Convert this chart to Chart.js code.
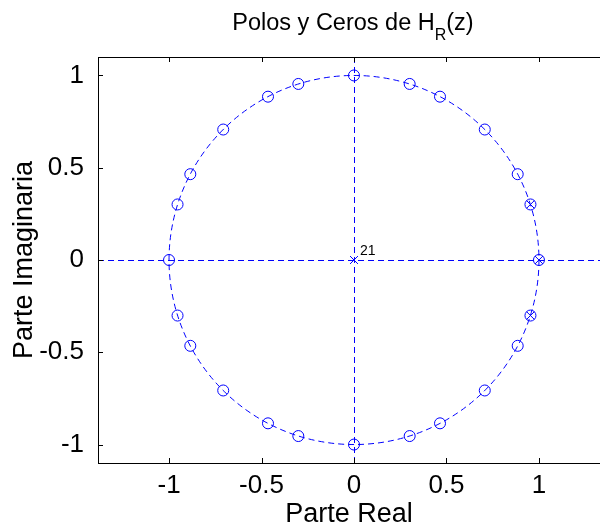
<!DOCTYPE html>
<html>
<head>
<meta charset="utf-8">
<script src="https://cdn.jsdelivr.net/npm/chart.js@4/dist/chart.umd.min.js"></script>
<style>
  html, body { margin: 0; padding: 0; background: #ffffff; overflow: hidden; }
  canvas { display: block; }
</style>
</head>
<body>
<canvas id="c" width="600" height="530"></canvas>
<script>
// ---- data ----
const zerosRe = [1, 0.954, 0.885, 0.707, 0.465, 0.301, 0, -0.301, -0.465, -0.707, -0.885, -0.954,
                 -1, -0.954, -0.885, -0.707, -0.465, -0.301, 0, 0.301, 0.465, 0.707, 0.885, 0.954];
const zerosIm = [0, 0.301, 0.465, 0.707, 0.885, 0.954, 1, 0.954, 0.885, 0.707, 0.465, 0.301,
                 0, -0.301, -0.465, -0.707, -0.885, -0.954, -1, -0.954, -0.885, -0.707, -0.465, -0.301];
const polesRe = [0, 1, 0.954, 0.954];
const polesIm = [0, 0, 0.301, -0.301];
const poleMultiplicityLabel = '21';      // multiplicity of the pole at the origin
const unitCircleRadius = 1;
const xTickValues = [-1, -0.5, 0, 0.5, 1];
const yTickValues = [-1, -0.5, 0, 0.5, 1];
const xLimits = [-1.384, 1.33];
const yLimits = [-1.1, 1.1];
const titleMain = 'Polos y Ceros de H';
const titleSub = 'R';
const titleTail = '(z)';
const xLabel = 'Parte Real';
const yLabel = 'Parte Imaginaria';

// ---- styles ----
const BLUE = '#0000ff';
const FONT = '"Liberation Sans", Arial, sans-serif';

const zeroPoints = zerosRe.map((re, i) => ({ x: re, y: zerosIm[i] }));
const polePoints = polesRe.map((re, i) => ({ x: re, y: polesIm[i] }));

function dashedLine(ctx, x1, y1, x2, y2) {
  ctx.beginPath();
  ctx.strokeStyle = BLUE;
  ctx.lineWidth = 1;
  ctx.setLineDash([6, 4]);
  ctx.moveTo(x1, y1);
  ctx.lineTo(x2, y2);
  ctx.stroke();
}

const decor = {
  id: 'zplaneDecor',
  beforeDatasetsDraw(chart) {
    const { ctx, chartArea: a, scales: { x, y } } = chart;
    const x0 = x.getPixelForValue(0), y0 = y.getPixelForValue(0);
    ctx.save();
    ctx.beginPath();
    ctx.rect(a.left, a.top, a.right - a.left, a.bottom - a.top);
    ctx.clip();
    // dashed unit circle
    const rx = x.getPixelForValue(unitCircleRadius) - x0;
    const ry = y0 - y.getPixelForValue(unitCircleRadius);
    ctx.beginPath();
    ctx.strokeStyle = BLUE;
    ctx.lineWidth = 1;
    ctx.setLineDash([6, 4]);
    ctx.ellipse(x0, y0, rx, ry, 0, 0, Math.PI * 2);
    ctx.stroke();
    // dashed real and imaginary axes
    const yl = Math.round(y0) + 0.5, xl = Math.round(x0) + 0.5;
    dashedLine(ctx, a.left, yl, a.right, yl);
    dashedLine(ctx, xl, a.top, xl, a.bottom);
    ctx.restore();
  },
  afterDraw(chart) {
    const { ctx, chartArea: a, scales: { x, y } } = chart;
    ctx.save();
    ctx.setLineDash([]);
    ctx.strokeStyle = '#000';
    ctx.lineWidth = 1;
    // top border
    ctx.beginPath(); ctx.moveTo(a.left, a.top + 0.5); ctx.lineTo(chart.width, a.top + 0.5); ctx.stroke();
    // inward ticks
    const TL = 5;
    x.ticks.forEach(t => {
      const px = Math.round(x.getPixelForValue(t.value)) + 0.5;
      ctx.beginPath(); ctx.moveTo(px, a.bottom); ctx.lineTo(px, a.bottom - TL); ctx.stroke();
      ctx.beginPath(); ctx.moveTo(px, a.top); ctx.lineTo(px, a.top + TL); ctx.stroke();
    });
    y.ticks.forEach(t => {
      const py = Math.round(y.getPixelForValue(t.value)) + 0.5;
      ctx.beginPath(); ctx.moveTo(a.left, py); ctx.lineTo(a.left + TL, py); ctx.stroke();
    });
    // multiplicity label
    ctx.fillStyle = '#000';
    ctx.font = '14px ' + FONT;
    ctx.textAlign = 'left';
    ctx.textBaseline = 'alphabetic';
    ctx.fillText(poleMultiplicityLabel, x.getPixelForValue(polesRe[0]) + 6, y.getPixelForValue(polesIm[0]) - 5);
    // title with subscript
    const mainFont = '23.5px ' + FONT, subFont = '16px ' + FONT;
    ctx.font = mainFont; const w1 = ctx.measureText(titleMain).width; const w3 = ctx.measureText(titleTail).width;
    ctx.font = subFont; const w2 = ctx.measureText(titleSub).width;
    const total = w1 + w2 + w3;
    let tx = x.getPixelForValue(0) - total / 2 - 1;
    const base = 30;
    ctx.font = mainFont; ctx.fillText(titleMain, tx, base); tx += w1;
    ctx.font = subFont; ctx.fillText(titleSub, tx, base + 10); tx += w2;
    ctx.font = mainFont; ctx.fillText(titleTail, tx, base);
    ctx.restore();
  }
};

new Chart(document.getElementById('c'), {
  type: 'scatter',
  data: {
    datasets: [
      { label: 'Ceros', data: zeroPoints, pointStyle: 'circle', pointRadius: 5.5, borderColor: BLUE,
        backgroundColor: 'rgba(0,0,0,0)', pointBorderWidth: 1, showLine: false },
      { label: 'Polos', data: polePoints, pointStyle: 'crossRot', pointRadius: 5.6, borderColor: BLUE,
        backgroundColor: BLUE, pointBorderWidth: 1, showLine: false }
    ]
  },
  options: {
    responsive: false,
    devicePixelRatio: 1,
    animation: false,
    events: [],
    layout: { autoPadding: false, padding: { top: 57, left: 0, right: 0, bottom: 0 } },
    plugins: { legend: { display: false }, title: { display: false }, tooltip: { enabled: false } },
    scales: {
      x: {
        type: 'linear', position: 'bottom', min: xLimits[0], max: xLimits[1],
        afterBuildTicks: s => { s.ticks = xTickValues.map(v => ({ value: v })); },
        afterFit: s => { s.height = 67; s.paddingLeft = 0; s.paddingRight = 0; },
        grid: { display: false },
        border: { display: true, color: '#000', width: 1 },
        ticks: { padding: -1, color: '#000', font: { family: FONT, size: 26 }, maxRotation: 0, autoSkip: false,
                 callback: v => String(v) },
        title: { display: true, text: xLabel, color: '#000', font: { family: FONT, size: 27 },
                 padding: { top: 0, bottom: -1 } }
      },
      y: {
        type: 'linear', position: 'left', min: yLimits[0], max: yLimits[1],
        afterBuildTicks: s => { s.ticks = yTickValues.map(v => ({ value: v })); },
        afterFit: s => { s.width = 98; s.paddingTop = 0; s.paddingBottom = 0; },
        grid: { display: false },
        border: { display: true, color: '#000', width: 1 },
        ticks: { padding: 6, color: '#000', font: { family: FONT, size: 26 }, autoSkip: false,
                 callback: v => String(v) },
        title: { display: true, text: yLabel, color: '#000', font: { family: FONT, size: 27 },
                 padding: { top: 8, bottom: 0 } }
      }
    }
  },
  plugins: [decor]
});
</script>
</body>
</html>
